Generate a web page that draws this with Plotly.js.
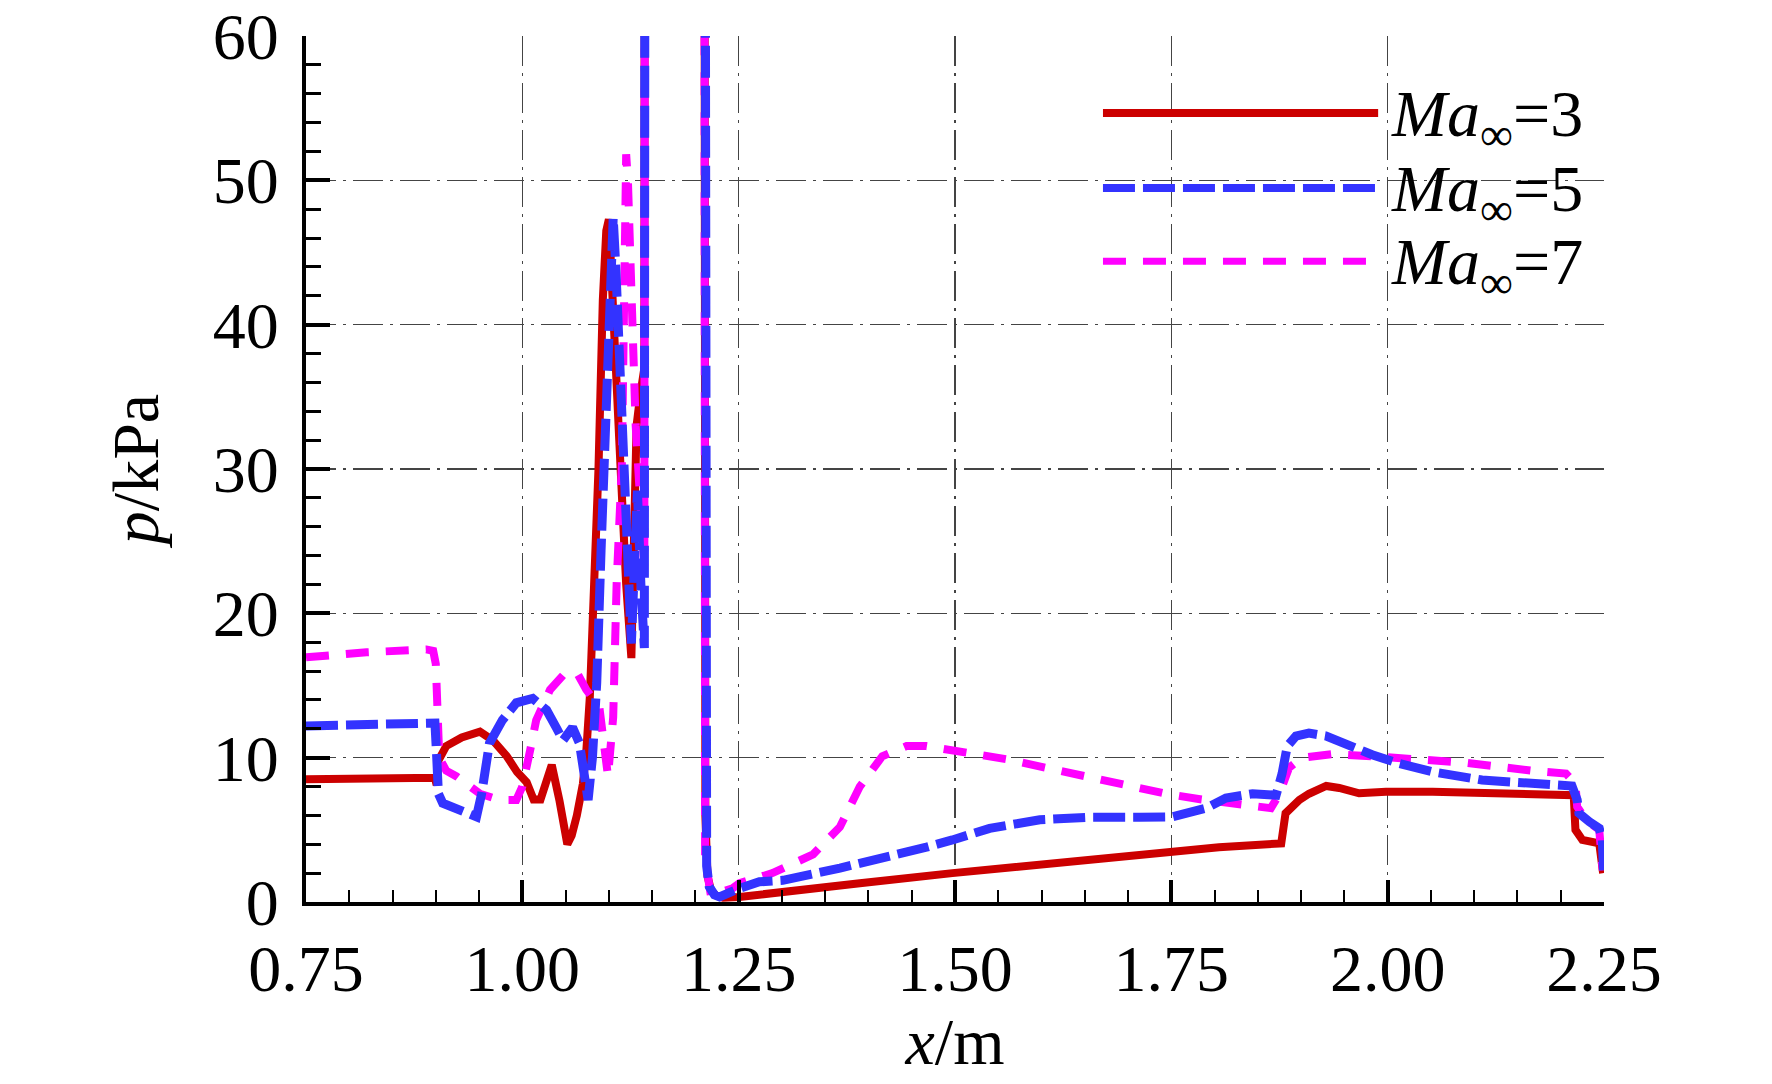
<!DOCTYPE html>
<html>
<head>
<meta charset="utf-8">
<script src="https://cdn.plot.ly/plotly-3.0.1.min.js"></script>
<style>
  html, body { margin: 0; padding: 0; background: #fff; }
  #chart { width: 1772px; height: 1084px; }
</style>
</head>
<body>
<div id="chart"></div>
<script>
//Ma=3
const x3 = [0.75, 0.82, 0.899, 0.901, 0.903, 0.912, 0.93, 0.951, 0.966, 0.982, 0.994, 1.005, 1.013, 1.021, 1.034, 1.043, 1.048, 1.052, 1.057, 1.063, 1.070, 1.074, 1.078, 1.082, 1.088, 1.093, 1.097, 1.100, 1.104, 1.112, 1.120, 1.126, 1.129, 1.132, 1.136, 1.141, 1.1425, 1.17, 1.2095, 1.2105, 1.2115, 1.214, 1.218, 1.224, 1.232, 1.251, 1.30, 1.39, 1.497, 1.60, 1.748, 1.805, 1.877, 1.879, 1.882, 1.898, 1.909, 1.929, 1.944, 1.967, 1.998, 2.052, 2.129, 2.215, 2.217, 2.225, 2.2445, 2.249];
const p3 = [8.5, 8.55, 8.6, 8.1, 9.8, 10.8, 11.4, 11.8, 11.2, 10.1, 9.0, 8.3, 7.1, 7.1, 9.5, 7.0, 5.5, 4.0, 4.6, 6.0, 8.2, 10.5, 14.2, 19.8, 30, 41.7, 46.5, 47.3, 43, 32, 22, 16.9, 25, 33, 35, 37, 150, 300, 150, 30, 6, 1.8, 0.8, 0.45, 0.3, 0.35, 0.65, 1.3, 2.0, 2.6, 3.5, 3.8, 4.06, 5.0, 6.15, 7.07, 7.5, 8.04, 7.9, 7.53, 7.64, 7.64, 7.53, 7.4, 5.0, 4.3, 4.07, 2.0];

//Ma=5
const x5 = [0.75, 0.82, 0.895, 0.899, 0.901, 0.903, 0.908, 0.931, 0.947, 0.953, 0.962, 0.977, 0.993, 1.012, 1.028, 1.040, 1.047, 1.052, 1.058, 1.066, 1.071, 1.076, 1.081, 1.086, 1.091, 1.097, 1.101, 1.105, 1.108, 1.115, 1.121, 1.126, 1.130, 1.133, 1.137, 1.141, 1.1425, 1.17, 1.2095, 1.2105, 1.2115, 1.213, 1.216, 1.222, 1.228, 1.236, 1.251, 1.274, 1.301, 1.367, 1.424, 1.467, 1.497, 1.540, 1.598, 1.655, 1.713, 1.751, 1.790, 1.813, 1.844, 1.871, 1.878, 1.884, 1.894, 1.909, 1.929, 1.956, 1.982, 2.013, 2.051, 2.109, 2.167, 2.213, 2.219, 2.221, 2.233, 2.2445, 2.248, 2.2495];
const p5 = [12.2, 12.3, 12.4, 12.4, 10.1, 7.5, 6.85, 6.2, 5.9, 7.5, 11.0, 12.6, 13.8, 14.1, 13.3, 12.0, 11.2, 11.6, 12.1, 11.0, 8.5, 7.07, 10, 15.2, 24.4, 33.6, 42, 47.4, 44, 33, 25, 17.9, 24, 28.5, 22, 17.6, 150, 300, 150, 30, 8, 2.5, 1.06, 0.5, 0.35, 0.6, 0.95, 1.4, 1.5, 2.35, 3.1, 3.8, 4.3, 5.1, 5.7, 5.87, 5.87, 5.9, 6.5, 7.2, 7.5, 7.4, 8.9, 10.8, 11.5, 11.7, 11.5, 10.8, 10.2, 9.6, 9.03, 8.45, 8.15, 8.04, 7.07, 6.15, 5.56, 5.1, 4.3, 2.2];

//Ma=7
const x7 = [0.75, 0.82, 0.889, 0.897, 0.900, 0.902, 0.904, 0.912, 0.924, 0.951, 0.974, 0.993, 1.000, 1.009, 1.016, 1.032, 1.047, 1.063, 1.074, 1.089, 1.093, 1.099, 1.105, 1.109, 1.115, 1.118, 1.120, 1.122, 1.126, 1.131, 1.136, 1.141, 1.1425, 1.17, 1.2095, 1.2105, 1.2112, 1.218, 1.225, 1.243, 1.251, 1.289, 1.336, 1.367, 1.390, 1.416, 1.444, 1.467, 1.513, 1.559, 1.609, 1.651, 1.694, 1.744, 1.785, 1.840, 1.865, 1.875, 1.886, 1.901, 1.936, 1.982, 2.033, 2.090, 2.167, 2.206, 2.217, 2.219, 2.229, 2.2445, 2.2485];
const p7 = [16.95, 17.3, 17.5, 17.4, 16.5, 14, 10, 9.1, 8.7, 7.5, 7.07, 7.07, 8.0, 10.5, 12.6, 14.7, 15.7, 15.9, 14.7, 13.5, 11.7, 8.7, 12.8, 22.1, 30.2, 42, 51.8, 50, 41, 33, 28, 23.2, 150, 300, 150, 30, 3, 0.4, 0.6, 0.95, 1.3, 2.0, 3.3, 5.2, 8.0, 10.1, 10.8, 10.8, 10.4, 9.9, 9.25, 8.7, 8.1, 7.5, 7.1, 6.6, 6.5, 7.5, 9.3, 10.0, 10.25, 10.1, 9.95, 9.65, 9.1, 8.9, 8.2, 6.6, 5.7, 5.0, 2.2];

const seriesNames = ["<i>Ma</i><sub>∞</sub>=3", "<i>Ma</i><sub>∞</sub>=5", "<i>Ma</i><sub>∞</sub>=7"];
const seriesColors = ["#cc0000", "#3333ff", "#ff00ff"];
const seriesDash = ["solid", "32px,8px", "23px,17px"];
const seriesWidth = [8, 9, 8];

const font = "Liberation Serif, Times New Roman, serif";
const gridDash = "30px,7px,3px,7px";

// drawn red, magenta, blue so blue sits on top
const traces = [
  { x: x3, y: p3, i: 0 },
  { x: x7, y: p7, i: 2 },
  { x: x5, y: p5, i: 1 },
].map(s => ({
  x: s.x,
  y: s.y,
  type: "scatter",
  mode: "lines",
  name: seriesNames[s.i],
  showlegend: false,
  line: { color: seriesColors[s.i], width: seriesWidth[s.i], dash: seriesDash[s.i] },
}));

// legend drawn by hand, long sample lines like the original
const legendY = [0.911, 0.8245, 0.740];
const shapes = legendY.map((y, i) => ({
  type: "line", xref: "paper", yref: "paper",
  x0: 0.614, x1: 0.826, y0: y, y1: y,
  line: { color: seriesColors[i], width: i == 2 ? 7 : 8, dash: seriesDash[i] },
}));
const annotations = legendY.map((y, i) => ({
  xref: "paper", yref: "paper", x: 0.834, y: y - 0.006,
  xanchor: "left", yanchor: "middle", showarrow: false,
  text: seriesNames[i],
  font: { family: font, size: 66, color: "#000" },
}));

const layout = {
  width: 1772,
  height: 1084,
  margin: { l: 306, r: 168, t: 36, b: 182 },
  paper_bgcolor: "#fff",
  plot_bgcolor: "#fff",
  font: { family: font, size: 66, color: "#000" },
  showlegend: false,
  xaxis: {
    range: [0.75, 2.25],
    tick0: 0.75,
    dtick: 0.25,
    tickformat: ".2f",
    ticks: "inside",
    ticklen: 22,
    tickwidth: 4,
    tickcolor: "#000",
    ticklabelstandoff: 6,
    showline: true,
    linewidth: 4,
    linecolor: "#000",
    zeroline: false,
    showgrid: true,
    gridcolor: "#444",
    gridwidth: 1.5,
    griddash: gridDash,
    minor: { dtick: 0.05, ticks: "inside", ticklen: 12, tickwidth: 2, tickcolor: "#000", showgrid: false },
    title: { text: "<i>x</i>/m", font: { family: font, size: 66 }, standoff: 14 },
  },
  yaxis: {
    range: [0, 60],
    dtick: 10,
    ticks: "inside",
    ticklen: 24,
    tickwidth: 4,
    tickcolor: "#000",
    ticklabelstandoff: 10,
    showline: true,
    linewidth: 4,
    linecolor: "#000",
    zeroline: false,
    showgrid: true,
    gridcolor: "#444",
    gridwidth: 1.5,
    griddash: gridDash,
    minor: { dtick: 2, ticks: "inside", ticklen: 15, tickwidth: 3, tickcolor: "#000", showgrid: false },
    title: { text: "<i>p</i>/kPa", font: { family: font, size: 66 }, standoff: 34 },
  },
  shapes: shapes,
  annotations: annotations,
};

Plotly.newPlot("chart", traces, layout, { staticPlot: true, displayModeBar: false });
</script>
</body>
</html>
